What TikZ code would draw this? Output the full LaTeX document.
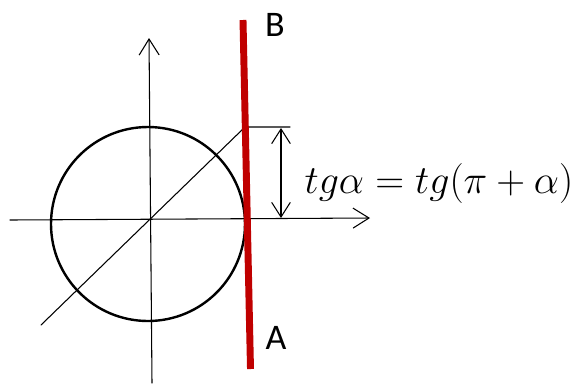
\documentclass[tikz,border=0pt]{standalone}
\usepackage{fix-cm}
\usepackage{fontspec}
\setmainfont{Carlito}
\usetikzlibrary{arrows.meta}
\definecolor{tanred}{RGB}{192,0,0}

\begin{document}
\begin{tikzpicture}[x=0.75pt, y=-0.75pt, line cap=round,
    ax/.style={-{Straight Barb[length=12pt,width=15pt]}, line width=0.8pt},
    dim/.style={{Straight Barb[length=11pt,width=14pt]}-{Straight Barb[length=11pt,width=14pt]}, line width=0.8pt},
    tang/.style={draw=tanred, line width=5.2pt, line cap=butt}]
    \useasboundingbox (0,0) rectangle (577,383);
    \coordinate (c) at (148,224);
    \coordinate (t) at (245,127);
    \draw[line width=1.8pt] (c) circle[radius=72.75pt];
    \draw[ax] (10,220) -- (370,218);
    \draw[ax] (152,383) -- (149,38);
    \draw[line width=0.8pt] (41,325) -- (t) -- (290,127);
    \draw[dim] (281,128) -- (281,218);
    \draw[tang] (243,20) coordinate (top) -- (250.5,369) coordinate (bot);
    \node[font=\fontsize{27}{30}\selectfont] (B) at (275,25) {B};
    \node[font=\fontsize{27}{30}\selectfont] (A) at (276,338) {A};
    \node[font=\fontsize{30}{36}\selectfont] (eq) at (439,183) {$tg\alpha = tg(\pi+\alpha)$};
\end{tikzpicture}
\end{document}
